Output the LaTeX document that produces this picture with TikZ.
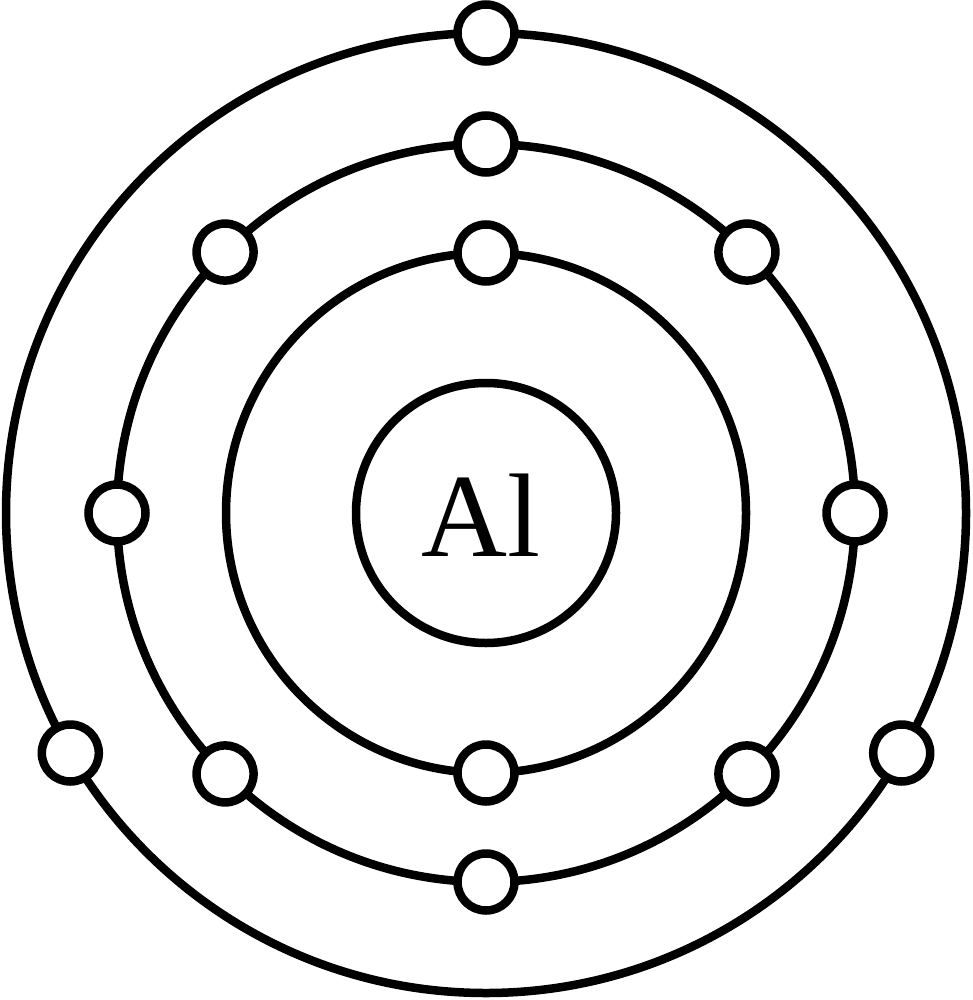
\documentclass[tikz,border=0pt]{standalone}
\usepackage{fontspec}
\setmainfont{Liberation Serif}
\usetikzlibrary{calc}
\begin{document}
\begin{tikzpicture}[x=1pt,y=-1pt,
  ring/.style={draw=black, line width=8.5pt, circle, inner sep=0pt, fill=none},
  electron/.style={draw=black, line width=8.5pt, circle, fill=white, inner sep=0pt, minimum size=57pt}]
\useasboundingbox (0,0) rectangle (972,1000);
\coordinate (c) at (486,513);
% nucleus and orbits
\node[ring, minimum size=260pt] (nucleus) at (c) {};
\node[font=\fontsize{119}{119}\selectfont, inner sep=0pt] (symbol) at ($(nucleus.center)+(-5,2)$) {Al};
\node[ring, minimum size=520pt] (orbit1) at (c) {};
\node[ring, minimum size=738pt] (orbit2) at (c) {};
\node[ring, minimum size=960pt] (orbit3) at (c) {};
% shell 1: 2 electrons
\foreach \a [count=\i] in {90,270}
  \node[electron] (e1-\i) at ($(c)+(\a:260 and -260)$) {};
% shell 2: 8 electrons
\foreach \a [count=\i] in {0,45,...,315}
  \node[electron] (e2-\i) at ($(c)+(\a:369 and -369)$) {};
% shell 3: 3 electrons
\foreach \a [count=\i] in {90,210,330}
  \node[electron] (e3-\i) at ($(c)+(\a:480 and -480)$) {};
\end{tikzpicture}
\end{document}
